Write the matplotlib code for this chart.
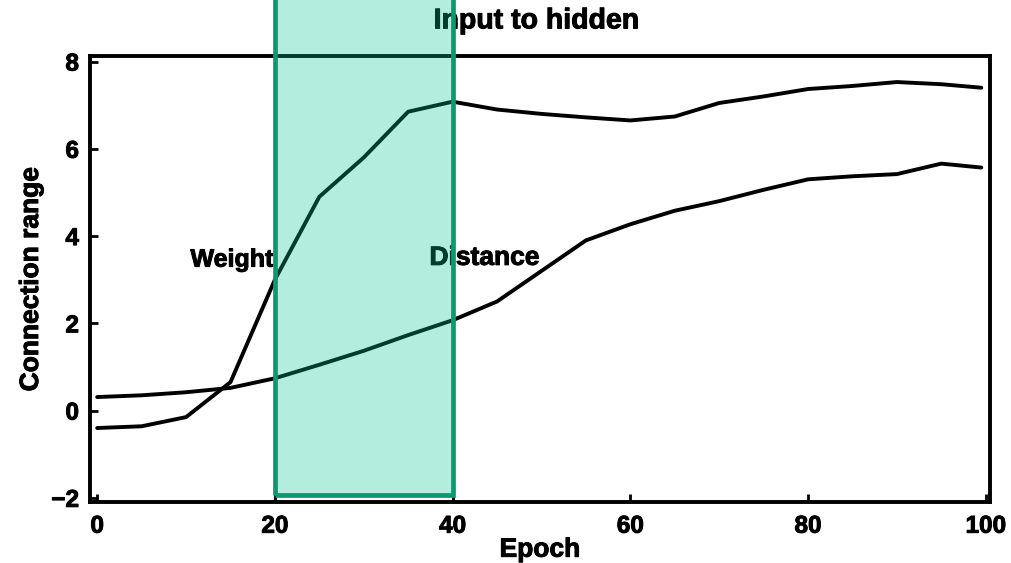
import matplotlib
matplotlib.use("Agg")
import matplotlib.pyplot as plt
import matplotlib.patheffects as pe
from matplotlib.patches import Rectangle

epochs = [0, 5, 10, 15, 20, 25, 30, 35, 40, 45, 50, 55, 60, 65, 70, 75, 80, 85, 90, 95, 99.5]
weight = [-0.40, -0.36, -0.15, 0.65, 3.0, 4.9, 5.8, 6.85, 7.08, 6.9, 6.8, 6.72, 6.65, 6.74, 7.05, 7.2, 7.37, 7.44, 7.53, 7.48, 7.4]
distance = [0.31, 0.35, 0.42, 0.52, 0.74, 1.05, 1.37, 1.73, 2.07, 2.5, 3.2, 3.9, 4.27, 4.58, 4.8, 5.06, 5.3, 5.37, 5.42, 5.66, 5.57]

xticks = [0, 20, 40, 60, 80, 100]
yticks = [-2, 0, 2, 4, 6, 8]
highlight = (20, 40)

plt.rcParams['font.family'] = ['Liberation Sans', 'DejaVu Sans']
plt.rcParams['font.weight'] = 'bold'

heavy = [pe.withStroke(linewidth=0.7, foreground='black')]

fig = plt.figure(figsize=(10.12, 5.63), dpi=100)
ax = fig.add_axes([0.089, 0.108, 0.889, 0.792])

ax.plot(epochs, weight, color='black', lw=2.8, solid_capstyle='round')
ax.plot(epochs, distance, color='black', lw=2.8, solid_capstyle='round')

ax.set_xlim(-0.8, 100.45)
ax.set_ylim(-2.1, 8.12)
ax.set_xticks(xticks)
ax.set_yticks(yticks)
ax.set_yticklabels(['\u22122' if t == -2 else str(t) for t in yticks])
ax.tick_params(direction='in', length=6, width=2, labelsize=17.5)
ax.tick_params(axis='x', pad=9)
ax.tick_params(axis='y', pad=8)
for lbl in ax.get_xticklabels() + ax.get_yticklabels():
    lbl.set_fontweight('bold')
    lbl.set_path_effects(heavy)
for s in ax.spines.values():
    s.set_linewidth(2.8)

ax.text(10.5, 3.46, 'Weight', fontsize=18, fontweight='bold', va='center', ha='left', path_effects=heavy)
ax.text(37.4, 3.5, 'Distance', fontsize=19, fontweight='bold', va='center', ha='left', path_effects=heavy)

ax.set_xlabel('Epoch', fontsize=19, fontweight='bold', labelpad=0, path_effects=heavy)
ax.set_ylabel('Connection range', fontsize=19, fontweight='bold', labelpad=6, path_effects=heavy)
ax.text(0.530, 0.962, 'Input to hidden', fontsize=20.5, fontweight='bold', ha='center', va='center',
        transform=fig.transFigure, clip_on=False, zorder=4, path_effects=heavy)

rect = Rectangle((highlight[0], -1.93), highlight[1] - highlight[0], 12,
                 facecolor=(0.0, 0.77, 0.57), alpha=0.3, edgecolor='none',
                 clip_on=False, zorder=5)
ax.add_patch(rect)
rect2 = Rectangle((highlight[0], -1.93), highlight[1] - highlight[0], 12,
                  facecolor='none', edgecolor='#0a9a72', lw=3.4,
                  clip_on=False, zorder=6)
ax.add_patch(rect2)

fig.savefig('out.png', dpi=100)
